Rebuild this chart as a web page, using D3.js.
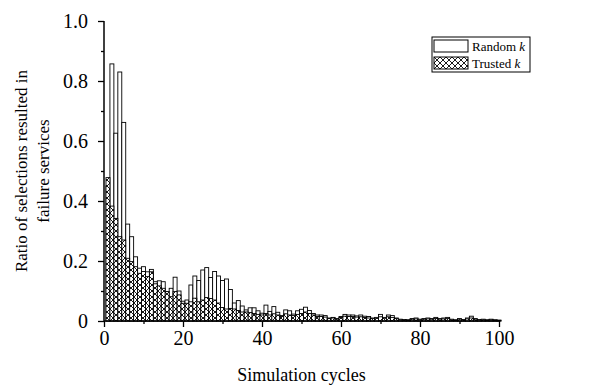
<!DOCTYPE html>
<html>
<head>
<meta charset="utf-8">
<script src="https://d3js.org/d3.v7.min.js"></script>
<style>
  body { margin: 0; background: #fff; }
  svg text { font-family: 'Liberation Serif', 'Times New Roman', serif; fill: #000; }
</style>
</head>
<body>
<svg width="595" height="388"></svg>
<script>
const svg = d3.select('svg');
const width  = +svg.attr('width');
const height = +svg.attr('height');
const margin = {top: 21, bottom: 67, left: 104, right: 96};

// Data: failure ratio per simulation cycle
const cycles = d3.range(1, 101);
const randomK = [
  0.45, 0.857, 0.626, 0.83, 0.662, 0.323, 0.281, 0.214, 0.176, 0.181,
  0.164, 0.172, 0.131, 0.134, 0.131, 0.098, 0.109, 0.146, 0.1, 0.066,
  0.07, 0.12, 0.15, 0.135, 0.17, 0.178, 0.145, 0.165, 0.15, 0.135,
  0.14, 0.105, 0.06, 0.068, 0.05, 0.037, 0.044, 0.044, 0.034, 0.026,
  0.053, 0.032, 0.048, 0.029, 0.018, 0.037, 0.034, 0.023, 0.034, 0.039,
  0.046, 0.035, 0.025, 0.02, 0.02, 0.018, 0.01, 0.012, 0.008, 0.015,
  0.022, 0.02, 0.02, 0.017, 0.02, 0.016, 0.015, 0.01, 0.012, 0.022,
  0.012, 0.02, 0.018, 0.01, 0.006, 0.005, 0.004, 0.008, 0.01, 0.006,
  0.008, 0.01, 0.008, 0.012, 0.008, 0.01, 0.012, 0.006, 0.004, 0.008,
  0.005, 0.01, 0.016, 0.008, 0.005, 0.006, 0.004, 0.006, 0.004, 0.003
];
const trustedK = [
  0.478, 0.383, 0.342, 0.281, 0.27, 0.209, 0.198, 0.181, 0.159, 0.165,
  0.148, 0.164, 0.124, 0.117, 0.109, 0.098, 0.081, 0.098, 0.087, 0.059,
  0.059, 0.064, 0.076, 0.064, 0.07, 0.078, 0.075, 0.07, 0.06, 0.045,
  0.04, 0.042, 0.04, 0.035, 0.03, 0.03, 0.028, 0.025, 0.022, 0.02,
  0.025, 0.02, 0.024, 0.02, 0.015, 0.024, 0.02, 0.018, 0.022, 0.025,
  0.03, 0.025, 0.02, 0.015, 0.015, 0.013, 0.008, 0.01, 0.006, 0.012,
  0.016, 0.015, 0.015, 0.013, 0.014, 0.012, 0.01, 0.008, 0.009, 0.014,
  0.009, 0.014, 0.012, 0.008, 0.004, 0.004, 0.003, 0.006, 0.007, 0.004,
  0.006, 0.007, 0.006, 0.008, 0.006, 0.007, 0.008, 0.004, 0.003, 0.006,
  0.004, 0.007, 0.01, 0.006, 0.004, 0.004, 0.003, 0.004, 0.003, 0.002
];
const xTicks = [0, 20, 40, 60, 80, 100];
const yTicks = [0, 0.2, 0.4, 0.6, 0.8, 1.0];
const seriesNames = ['Random ', 'Trusted '];

const innerWidth  = width - margin.left - margin.right;
const innerHeight = height - margin.top - margin.bottom;

const chart = svg.append('g')
  .attr('transform', `translate(${margin.left},${margin.top})`);

// Cross-hatch fill for the trusted series
const defs = svg.append('defs');
const pat = defs.append('pattern')
  .attr('id', 'hatch')
  .attr('patternUnits', 'userSpaceOnUse')
  .attr('width', 6).attr('height', 6);
pat.append('rect').attr('width', 6).attr('height', 6).attr('fill', '#fff');
pat.append('path')
  .attr('d', 'M0,0L6,6M6,0L0,6')
  .attr('stroke', '#000').attr('stroke-width', 0.9);

const xScale = d3.scaleLinear().domain([0, 100]).range([0, innerWidth]);
const yScale = d3.scaleLinear().domain([0, 1]).range([innerHeight, 0]);

const barW = xScale(1) - xScale(0);

// Random k bars (behind), then Trusted k bars in front
chart.append('g').selectAll('rect').data(cycles)
  .enter().append('rect')
    .attr('x', d => xScale(d) - barW / 2)
    .attr('y', (d, i) => yScale(randomK[i]))
    .attr('width', barW)
    .attr('height', (d, i) => yScale(0) - yScale(randomK[i]))
    .attr('fill', '#fff')
    .attr('stroke', '#000')
    .attr('stroke-width', 0.9);

chart.append('g').selectAll('rect').data(cycles)
  .enter().append('rect')
    .attr('x', d => xScale(d) - barW / 2)
    .attr('y', (d, i) => yScale(trustedK[i]))
    .attr('width', barW)
    .attr('height', (d, i) => yScale(0) - yScale(trustedK[i]))
    .attr('fill', 'url(#hatch)')
    .attr('stroke', '#000')
    .attr('stroke-width', 0.9);

// Axes
const xAxis = d3.axisBottom(xScale).tickValues(xTicks).tickSize(6).tickPadding(4)
  .tickFormat(d3.format('d'));
const xMinor = d3.axisBottom(xScale).tickValues(d3.range(10, 100, 20)).tickSize(3).tickFormat('');
const yAxis = d3.axisLeft(yScale).tickValues(yTicks).tickSize(6).tickPadding(10)
  .tickFormat(d => d === 0 ? '0' : d3.format('.1f')(d));
const yMinor = d3.axisLeft(yScale).tickValues(d3.range(0.1, 1, 0.2)).tickSize(3).tickFormat('');

const axisFont = "'Liberation Serif', 'Times New Roman', serif";
chart.append('g').attr('class', 'axis x-axis')
  .attr('transform', `translate(0,${innerHeight})`)
  .call(xAxis)
  .attr('font-size', 20).attr('font-family', axisFont);
chart.append('g').attr('transform', `translate(0,${innerHeight})`).call(xMinor);
chart.append('g').attr('class', 'axis y-axis')
  .call(yAxis)
  .attr('font-size', 20).attr('font-family', axisFont);
chart.append('g').call(yMinor);

chart.selectAll('.domain').remove();
chart.selectAll('.tick line').attr('stroke', '#000').attr('stroke-width', 1.3);
chart.selectAll('.tick text').attr('fill', '#000');

// Plain axis lines
chart.append('line')
  .attr('x1', 0).attr('x2', innerWidth)
  .attr('y1', innerHeight).attr('y2', innerHeight)
  .attr('stroke', '#000').attr('stroke-width', 1.5);
chart.append('line')
  .attr('x1', 0).attr('x2', 0)
  .attr('y1', 0).attr('y2', innerHeight)
  .attr('stroke', '#000').attr('stroke-width', 1.5);

// Axis titles
svg.append('text')
  .attr('x', margin.left + innerWidth / 2)
  .attr('y', 381)
  .attr('text-anchor', 'middle')
  .attr('font-size', 18)
  .text('Simulation cycles');

const yTitle = svg.append('text')
  .attr('transform', `translate(27,${margin.top + innerHeight / 2}) rotate(-90)`)
  .attr('text-anchor', 'middle')
  .attr('font-size', 17);
yTitle.append('tspan').attr('x', 0).attr('dy', 0).text('Ratio of selections resulted in');
yTitle.append('tspan').attr('x', 0).attr('dy', 22).text('failure services');

// Legend
const legend = svg.append('g').attr('transform', 'translate(432,37)');
legend.append('rect')
  .attr('width', 98).attr('height', 35)
  .attr('fill', '#fff').attr('stroke', '#000').attr('stroke-width', 1);
const legendFills = ['#fff', 'url(#hatch)'];
seriesNames.forEach((name, i) => {
  const row = legend.append('g').attr('transform', `translate(2,${3 + i * 17})`);
  row.append('rect')
    .attr('width', 34).attr('height', 12)
    .attr('fill', legendFills[i]).attr('stroke', '#000').attr('stroke-width', 1);
  const t = row.append('text').attr('x', 38).attr('y', 11).attr('font-size', 13);
  t.append('tspan').text(name);
  t.append('tspan').attr('font-style', 'italic').text('k');
});
</script>
</body>
</html>
